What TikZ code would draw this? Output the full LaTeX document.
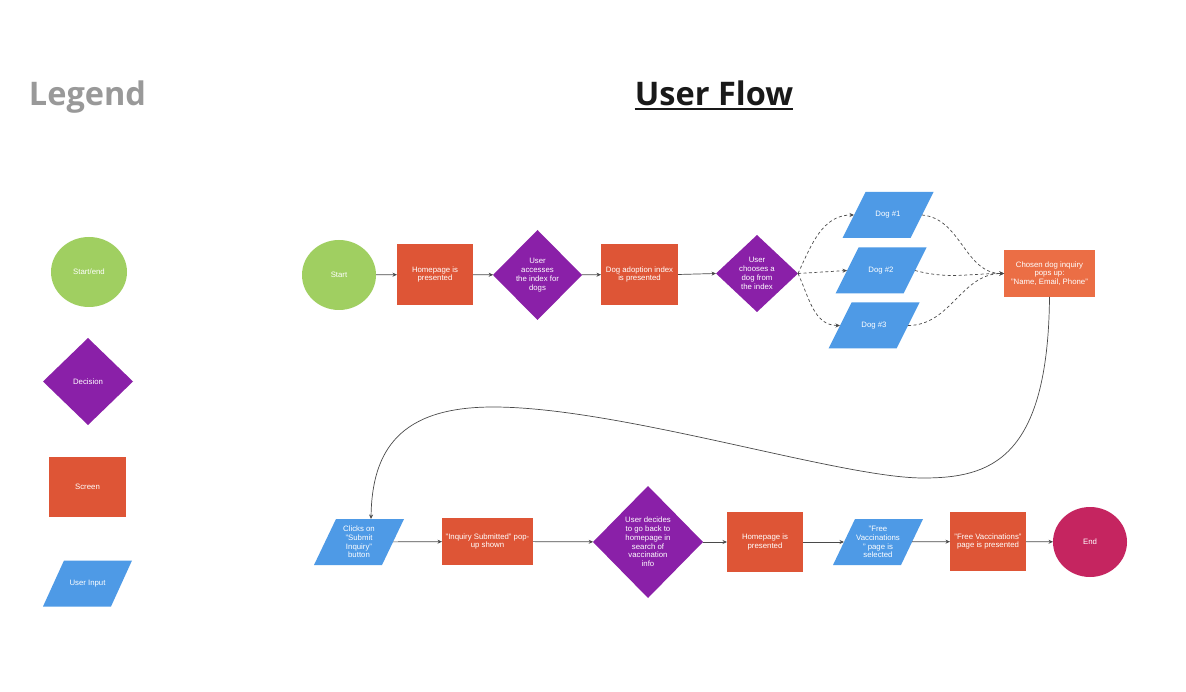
\documentclass[tikz,border=0pt]{standalone}
\usepackage{fontspec}
\setmainfont{Liberation Sans}
\newfontfamily\titlefont{Open Sans}
\usetikzlibrary{shapes.geometric,arrows.meta}
\definecolor{greenc}{HTML}{A0CF61}
\definecolor{purplec}{HTML}{8A20A8}
\definecolor{screenc}{HTML}{DE5536}
\definecolor{chosenc}{HTML}{EB6E45}
\definecolor{bluec}{HTML}{4E9AE6}
\definecolor{endc}{HTML}{C52560}
\definecolor{linec}{HTML}{4A4A4A}
\definecolor{legc}{HTML}{999999}
\newcommand{\lab}{\fontsize{7.8}{8.8}\selectfont}
\newcommand{\uibox}[5]{%
  \fill[bluec] (#2-34+#5,#3-23) -- (#2+34+#5,#3-23) -- (#2+34-#5,#3+23) -- (#2-34-#5,#3+23) -- cycle;
  \node[uitext] (#1) at (#2,#3) {#4};}
\tikzset{
  base/.style={inner sep=0pt, outer sep=0pt, text=white, font=\lab, align=center},
  termshape/.style={base, ellipse, minimum width=74pt, minimum height=70pt},
  decision/.style={base, diamond, fill=purplec},
  txt/.style={base},
  uitext/.style={base, minimum width=68pt, minimum height=46pt},
  arr/.style={-{Stealth[length=4.5pt,width=4pt]}, draw=linec, line width=0.7pt},
  darr/.style={arr, dash pattern=on 3pt off 2.5pt},
  titlestyle/.style={inner sep=0pt, anchor=base, font=\titlefont\bfseries\fontsize{32.5}{38}\selectfont},
}
\begin{document}
\begin{tikzpicture}[x=1pt,y=-1pt]
\useasboundingbox[fill=white] (0,0) rectangle (1186,692);

% titles
\node[titlestyle, text=legc] (legend) at (87.5,106) {Legend};
\node[titlestyle, text=black!90] (uf) at (714,106) {User Flow};
\draw[line width=2pt, black!90] ([yshift=-3.5pt]uf.base west) -- ([yshift=-3.5pt]uf.base east);

% legend
\node[termshape, fill=greenc, minimum width=76pt] (lstart) at (89,272) {Start/end};
\node[decision, minimum width=90pt, minimum height=87pt] (ldec) at (88,381.5) {};
\node[txt] (ldect) at (ldec) {Decision};
\node[base, fill=screenc, minimum width=77pt, minimum height=60pt] (lscr) at (87.5,487) {Screen};
\uibox{lui}{87.5}{583.5}{User Input}{10.5}

% row 1
\node[termshape, fill=greenc] (start) at (339,275) {Start};
\node[base, fill=screenc, minimum width=76pt, minimum height=61pt] (home1) at (435,274.5) {Homepage is\\presented};
\node[decision, minimum width=89pt, minimum height=90pt] (d1) at (537.5,275) {};
\node[txt] (d1t) at (537.5,275) {User\\accesses\\the index for\\dogs};
\node[base, fill=screenc, minimum width=77pt, minimum height=61pt] (idx) at (639.5,274.5) {Dog adoption index\\is presented};
\node[decision, minimum width=82pt, minimum height=77pt] (d2) at (757,273.5) {};
\node[txt] (d2t) at (757,273.5) {User\\chooses a\\dog from\\the index};
\uibox{dog1}{888}{215}{Dog \#1}{11.5}
\uibox{dog2}{881}{270.5}{Dog \#2}{11.5}
\uibox{dog3}{874}{325.5}{Dog \#3}{11.5}
\node[base, fill=chosenc, minimum width=91pt, minimum height=47pt] (chosen) at (1049.5,273.5) {Chosen dog inquiry\\pops up:\\"Name, Email, Phone"};

% row 2
\uibox{clicks}{359}{542}{Clicks on\\"Submit\\Inquiry"\\button}{11}
\node[base, fill=screenc, minimum width=91pt, minimum height=47pt] (inq) at (487.5,541.5) {"Inquiry Submitted" pop-\\up shown};
\node[decision, minimum width=110pt, minimum height=112pt] (d3) at (648,542) {};
\node[txt] (d3t) at (648,542) {User decides\\to go back to\\homepage in\\search of\\vaccination\\info};
\node[base, fill=screenc, minimum width=76pt, minimum height=60pt] (home2) at (765,542) {Homepage is\\presented};
\uibox{freesel}{878}{542}{"Free\\Vaccinations\\" page is\\selected}{11}
\node[base, fill=screenc, minimum width=76pt, minimum height=59pt] (freepres) at (988,541.5) {"Free Vaccinations"\\page is presented};
\node[termshape, fill=endc] (end) at (1090,542) {End};

% connectors row 1
\draw[arr] (start) -- (home1);
\draw[arr] (home1) -- (d1);
\draw[arr] (d1) -- (idx);
\draw[arr] (idx.east) -- (d2.west);
\draw[darr] (d2.east) to[out=65,in=180] (dog1.west);
\draw[darr] (d2.east) -- (dog2.west);
\draw[darr] (d2.east) to[out=-65,in=180] (dog3.west);
\draw[darr] (dog1.east) to[out=-5,in=180] (chosen.west);
\draw[darr] (dog2.east) to[out=-15,in=180] (chosen.west);
\draw[darr] (dog3.east) to[out=0,in=180] (chosen.west);

% long connector
\coordinate (lowpt) at (923,478);
\coordinate (highpt) at (493,407);
\draw[arr] (chosen.south) .. controls (1048,460) and (990,478) .. (lowpt)
  .. controls (840,478) and (620,407) .. (highpt)
  .. controls (400,407) and (372,450) .. ([xshift=12pt]clicks.north);

% connectors row 2
\draw[arr] (clicks) -- (inq);
\draw[arr] (inq) -- (d3);
\draw[arr] (d3) -- (home2);
\draw[arr] (home2) -- (freesel);
\draw[arr] (freesel) -- (freepres);
\draw[arr] (freepres) -- (end);
\end{tikzpicture}
\end{document}
